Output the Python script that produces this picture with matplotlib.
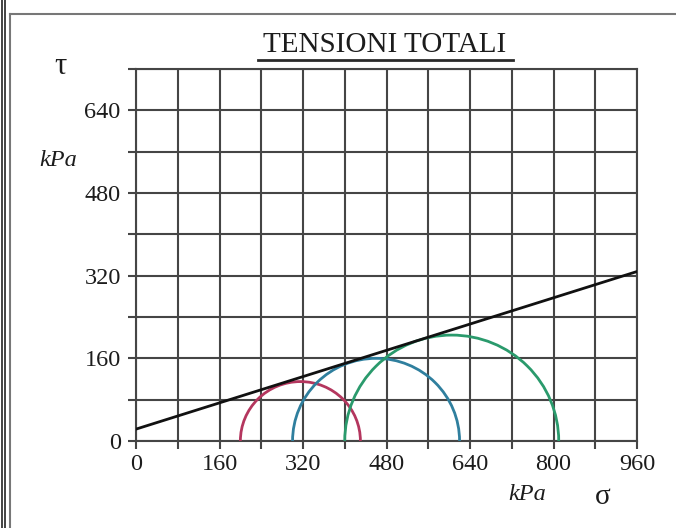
import matplotlib
matplotlib.use("Agg")
import matplotlib.pyplot as plt
from matplotlib.patches import Arc
from matplotlib.lines import Line2D
import numpy as np

# ---- data ----
title = "TENSIONI TOTALI"
x_ticks = [0, 160, 320, 480, 640, 800, 960]
y_ticks = [0, 160, 320, 480, 640]
grid_step = 80
x_max = 960
y_max = 720

# Mohr circles: minor and major principal stresses (kPa)
sigma3 = [200, 300, 400]
sigma1 = [430, 620, 810]
circle_colors = ["#b4365e", "#2f7f9e", "#2a9a6c"]

# failure envelope end points
envelope_sigma = [0, 960]
envelope_tau = [23, 328]

plt.rcParams["font.family"] = ["Liberation Serif", "DejaVu Serif"]

W, H = 676, 528
fig = plt.figure(figsize=(W / 100, H / 100), dpi=100)
fig.patch.set_facecolor("white")

left, right = 136 / W, 637 / W
bottom, top = 1 - 441 / H, 1 - 69 / H
ax = fig.add_axes([left, bottom, right - left, top - bottom])
ax.set_xlim(0, x_max)
ax.set_ylim(0, y_max)

gc = "#454545"
lw_grid = 1.5
for v in np.arange(0, x_max + 1, grid_step):
    ax.axvline(v, color=gc, lw=lw_grid, zorder=1)
for v in np.arange(0, y_max + 1, grid_step):
    ax.axhline(v, color=gc, lw=lw_grid, zorder=1)

for s in ax.spines.values():
    s.set_color(gc)
    s.set_linewidth(lw_grid)

tc = "#1c1c1c"
ax.set_xticks(x_ticks)
ax.set_yticks(y_ticks)
ax.set_xticks(np.arange(0, x_max + 1, grid_step), minor=True)
ax.set_yticks(np.arange(0, y_max + 1, grid_step), minor=True)
ax.tick_params(which="both", direction="out", length=6, width=lw_grid, color=gc)
ax.tick_params(axis="x", which="major", labelsize=17.5, pad=3, labelcolor=tc)
ax.tick_params(axis="y", which="major", labelsize=17.5, pad=5, labelcolor=tc)

# Mohr circles
for s3, s1, c in zip(sigma3, sigma1, circle_colors):
    center = (s3 + s1) / 2
    diam = s1 - s3
    ax.add_patch(Arc((center, 0), diam, diam, theta1=0, theta2=180,
                     color=c, lw=2.0, zorder=3))

# failure envelope
ax.plot(envelope_sigma, envelope_tau, color="#111111", lw=2.0, zorder=4,
        solid_capstyle="round")

# title and axis labels
fig.text(385 / W, 1 - 45 / H, title, ha="center", va="center", fontsize=21,
         color=tc)
fig.add_artist(Line2D([258 / W, 513 / W], [1 - 60 / H, 1 - 60 / H],
                      color="#2a2a2a", lw=2.0))
fig.text(60 / W, 1 - 67 / H, "τ", ha="center", va="center", fontsize=22,
         color=tc)
fig.text(58 / W, 1 - 160 / H, "kPa", ha="center", va="center", fontsize=17.5,
         style="italic", color=tc)
fig.text(527 / W, 1 - 495 / H, "kPa", ha="center", va="center", fontsize=17.5,
         style="italic", color=tc)
fig.text(603 / W, 1 - 497 / H, "σ", ha="center", va="center", fontsize=21,
         color=tc)

# outer frame
fig.add_artist(Line2D([10 / W, 10 / W], [0, 1 - 14 / H], color="#777777", lw=1.5))
fig.add_artist(Line2D([10 / W, 1], [1 - 14 / H, 1 - 14 / H], color="#777777", lw=1.5))
fig.add_artist(Line2D([1.5 / W, 1.5 / W], [0, 1], color="#222222", lw=1.2))
fig.add_artist(Line2D([4.5 / W, 4.5 / W], [0, 1], color="#222222", lw=1.2))

fig.savefig("out.png", dpi=100, facecolor="white")
